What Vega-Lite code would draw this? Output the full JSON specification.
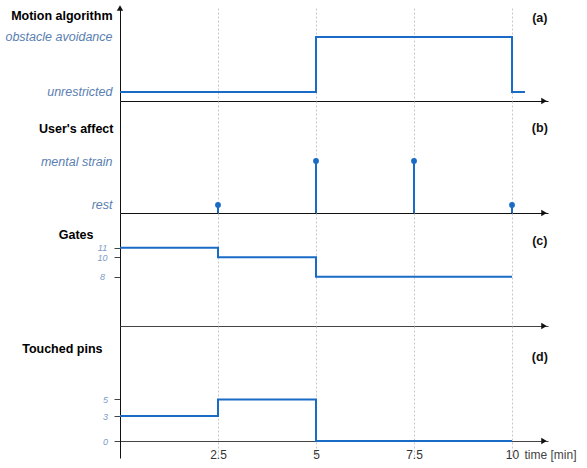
{
  "$schema": "https://vega.github.io/schema/vega-lite/v6.json",
  "background": "white",
  "padding": {"left": 4, "top": 5, "right": 2, "bottom": 2},
  "spacing": 0,
  "bounds": "flush",
  "config": {
    "view": {"stroke": null},
    "font": "Liberation Sans",
    "axis": {"titleFont": "Liberation Sans", "labelFont": "Liberation Sans"}
  },
  "datasets": {
    "motion": [{"t": 0, "mode": 0}, {"t": 5, "mode": 1}, {"t": 10, "mode": 0}, {"t": 10.33, "mode": 0}],
    "affect": [{"t": 2.5, "state": 0}, {"t": 5, "state": 1}, {"t": 7.5, "state": 1}, {"t": 10, "state": 0}],
    "gates": [{"t": 0, "gates": 11}, {"t": 2.5, "gates": 10}, {"t": 5, "gates": 8}, {"t": 10, "gates": 8}],
    "pins": [{"t": 0, "pins": 3}, {"t": 2.5, "pins": 5}, {"t": 5, "pins": 0}, {"t": 10, "pins": 0}]
  },
  "vconcat": [
    {
      "width": 428,
      "height": 93,
      "layer": [
        {
          "data": {"name": "motion"},
          "mark": {"type": "line", "interpolate": "step-after", "color": "#1a6bc6", "strokeWidth": 2},
          "encoding": {
            "x": {"field": "t", "type": "quantitative", "scale": {"domain": [0, 10.918], "nice": false, "zero": false},
              "axis": {"grid": true, "values": [2.5, 5, 7.5, 10], "labels": false, "ticks": false, "title": null, "domainColor": "#111", "gridDash": [2, 2], "gridColor": "#c8c8c8"}},
            "y": {"field": "mode", "type": "quantitative", "scale": {"domain": [-0.164, 1.527], "nice": false, "zero": false},
              "axis": {"values": [0, 1], "labelExpr": "datum.value == 0 ? 'unrestricted' : 'obstacle avoidance'", "ticks": false, "tickSize": 0, "grid": false,
                "labelPadding": 8, "labelFontStyle": "italic", "labelFontSize": 12.5, "labelColor": "#5a80b0", "domainColor": "#111",
                "title": "Motion algorithm", "titleAngle": 0, "titleAlign": "right", "titleBaseline": "middle", "titleX": -8, "titleY": 7,
                "titleFontSize": 12.5, "titleFontWeight": "bold", "titleColor": "black"}}
          }
        },
        {
          "data": {"values": [{}]},
          "mark": {"type": "point", "shape": "triangle-right", "filled": true, "color": "#111", "opacity": 1, "size": 40},
          "encoding": {"x": {"datum": 10.816, "type": "quantitative"}, "y": {"datum": -0.164, "type": "quantitative"}}
        },
        {
          "data": {"values": [{}]},
          "mark": {"type": "point", "shape": "triangle-up", "filled": true, "color": "#111", "opacity": 1, "size": 40},
          "encoding": {"x": {"datum": 0, "type": "quantitative"}, "y": {"datum": 1.527, "type": "quantitative"}}
        },
        {
          "data": {"values": [{}]},
          "mark": {"type": "text", "text": "(a)", "fontWeight": "bold", "fontSize": 12.5, "color": "#111", "align": "center", "baseline": "middle"},
          "encoding": {"x": {"datum": 10.71, "type": "quantitative"}, "y": {"datum": 1.345, "type": "quantitative"}}
        }
      ]
    },
    {
      "width": 428,
      "height": 112,
      "layer": [
        {
          "data": {"name": "affect"},
          "mark": {"type": "rule", "color": "#1a6bc6", "strokeWidth": 2},
          "encoding": {
            "x": {"field": "t", "type": "quantitative", "scale": {"domain": [0, 10.918], "nice": false, "zero": false},
              "axis": {"grid": true, "values": [2.5, 5, 7.5, 10], "labels": false, "ticks": false, "title": null, "domainColor": "#111", "gridDash": [2, 2], "gridColor": "#c8c8c8"}},
            "y": {"field": "state", "type": "quantitative", "scale": {"domain": [-0.182, 2.364], "nice": false, "zero": false},
              "axis": {"values": [0, 1], "labelExpr": "datum.value == 0 ? 'rest' : 'mental strain'", "ticks": false, "tickSize": 0, "grid": false,
                "labelPadding": 8, "labelFontStyle": "italic", "labelFontSize": 12.5, "labelColor": "#5a80b0", "domainColor": "#111",
                "title": "User's affect", "titleAngle": 0, "titleAlign": "right", "titleBaseline": "middle", "titleX": -7, "titleY": 27,
                "titleFontSize": 12.5, "titleFontWeight": "bold", "titleColor": "black"}},
            "y2": {"datum": -0.182}
          }
        },
        {
          "data": {"name": "affect"},
          "mark": {"type": "point", "shape": "circle", "filled": true, "color": "#1a6bc6", "opacity": 1, "size": 34},
          "encoding": {"x": {"field": "t", "type": "quantitative"}, "y": {"field": "state", "type": "quantitative"}}
        },
        {
          "data": {"values": [{}]},
          "mark": {"type": "point", "shape": "triangle-right", "filled": true, "color": "#111", "opacity": 1, "size": 40},
          "encoding": {"x": {"datum": 10.816, "type": "quantitative"}, "y": {"datum": -0.182, "type": "quantitative"}}
        },
        {
          "data": {"values": [{}]},
          "mark": {"type": "text", "text": "(b)", "fontWeight": "bold", "fontSize": 12.5, "color": "#111", "align": "center", "baseline": "middle"},
          "encoding": {"x": {"datum": 10.71, "type": "quantitative"}, "y": {"datum": 1.75, "type": "quantitative"}}
        }
      ]
    },
    {
      "width": 428,
      "height": 113,
      "layer": [
        {
          "data": {"name": "gates"},
          "mark": {"type": "line", "interpolate": "step-after", "color": "#1a6bc6", "strokeWidth": 2},
          "encoding": {
            "x": {"field": "t", "type": "quantitative", "scale": {"domain": [0, 10.918], "nice": false, "zero": false},
              "axis": {"grid": true, "values": [2.5, 5, 7.5, 10], "labels": false, "ticks": false, "title": null, "domainColor": "#444", "gridDash": [2, 2], "gridColor": "#c8c8c8"}},
            "y": {"field": "gates", "type": "quantitative", "scale": {"domain": [2.9, 14.59], "nice": false, "zero": false},
              "axis": {"values": [8, 10, 11], "ticks": true, "tickSize": 6, "tickColor": "#444", "grid": false,
                "labelPadding": 12, "labelAlign": "center", "labelFontStyle": "italic", "labelFontSize": 9, "labelColor": "#7b9bc6", "domainColor": "#111",
                "title": "Gates", "titleAngle": 0, "titleAlign": "right", "titleBaseline": "middle", "titleX": -27, "titleY": 21,
                "titleFontSize": 12.5, "titleFontWeight": "bold", "titleColor": "black"}}
          }
        },
        {
          "data": {"values": [{}]},
          "mark": {"type": "point", "shape": "triangle-right", "filled": true, "color": "#111", "opacity": 1, "size": 40},
          "encoding": {"x": {"datum": 10.816, "type": "quantitative"}, "y": {"datum": 2.9, "type": "quantitative"}}
        },
        {
          "data": {"values": [{}]},
          "mark": {"type": "text", "text": "(c)", "fontWeight": "bold", "fontSize": 12.5, "color": "#111", "align": "center", "baseline": "middle"},
          "encoding": {"x": {"datum": 10.71, "type": "quantitative"}, "y": {"datum": 11.69, "type": "quantitative"}}
        }
      ]
    },
    {
      "width": 428,
      "height": 132,
      "layer": [
        {
          "data": {"name": "pins"},
          "mark": {"type": "line", "interpolate": "step-after", "color": "#1a6bc6", "strokeWidth": 2},
          "encoding": {
            "x": {"field": "t", "type": "quantitative", "scale": {"domain": [0, 10.918], "nice": false, "zero": false},
              "axis": {"grid": true, "values": [2.5, 5, 7.5, 10], "labelExpr": "'' + datum.value", "labels": true, "ticks": false, "tickSize": 0, "offset": -17,
                "labelPadding": 8, "labelFontSize": 12, "labelColor": "#333", "domainColor": "#444", "gridDash": [2, 2], "gridColor": "#c8c8c8",
                "title": "time [min]", "titleX": 404, "titleY": 13, "titleAlign": "left", "titleBaseline": "middle", "titleFontSize": 12, "titleFontWeight": "normal", "titleColor": "#444"}},
            "y": {"field": "pins", "type": "quantitative", "scale": {"domain": [-2.048, 13.855], "nice": false, "zero": false},
              "axis": {"values": [0, 3, 5], "ticks": true, "tickSize": 6, "tickColor": "#444", "grid": false,
                "labelPadding": 9, "labelAlign": "center", "labelFontStyle": "italic", "labelFontSize": 9, "labelColor": "#7b9bc6", "domainColor": "#111",
                "title": "Touched pins", "titleAngle": 0, "titleAlign": "right", "titleBaseline": "middle", "titleX": -18, "titleY": 22,
                "titleFontSize": 12.5, "titleFontWeight": "bold", "titleColor": "black"}}
          }
        },
        {
          "data": {"values": [{}]},
          "mark": {"type": "point", "shape": "triangle-right", "filled": true, "color": "#111", "opacity": 1, "size": 40},
          "encoding": {"x": {"datum": 10.816, "type": "quantitative"}, "y": {"datum": 0, "type": "quantitative"}}
        },
        {
          "data": {"values": [{}]},
          "mark": {"type": "text", "text": "(d)", "fontWeight": "bold", "fontSize": 12.5, "color": "#111", "align": "center", "baseline": "middle"},
          "encoding": {"x": {"datum": 10.71, "type": "quantitative"}, "y": {"datum": 10.13, "type": "quantitative"}}
        }
      ]
    }
  ]
}
